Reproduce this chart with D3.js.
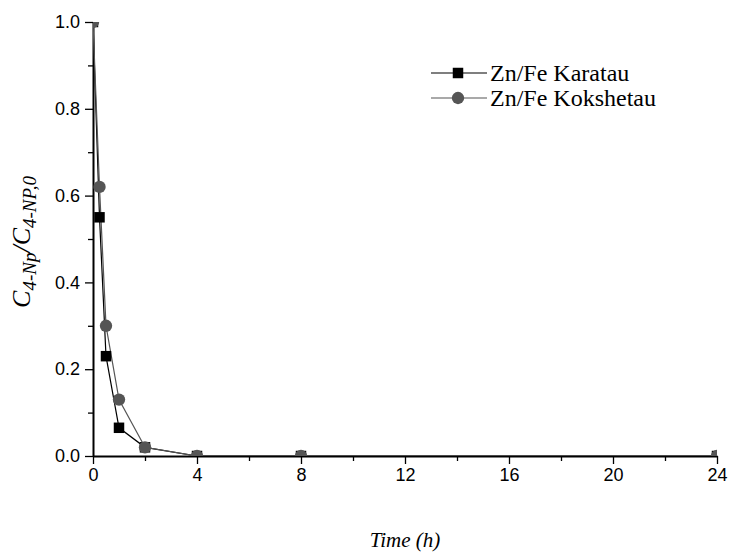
<!DOCTYPE html>
<html>
<head>
<meta charset="utf-8">
<script src="https://d3js.org/d3.v7.min.js"></script>
<style>
  body { margin: 0; background: #fff; }
  .tick text { font-family: "Liberation Sans", Arial, sans-serif; font-size: 18px; fill: #000; }
  .serif { font-family: "Liberation Serif", "Times New Roman", serif; }
</style>
</head>
<body>
<div id="chart"></div>
<script>
// Data
const timeH = [0, 0.25, 0.5, 1, 2, 4, 8, 24];
const karatau = [1.0, 0.55, 0.23, 0.065, 0.02, 0.0, 0.0, 0.0];
const kokshetau = [1.0, 0.62, 0.30, 0.13, 0.02, 0.0, 0.0, 0.0];
const xTicks = [0, 4, 8, 12, 16, 20, 24];
const yTicks = [0.0, 0.2, 0.4, 0.6, 0.8, 1.0];

const width = 732, height = 558;
const margin = { left: 93, right: 15, top: 22, bottom: 102 };
const innerW = width - margin.left - margin.right;
const innerH = height - margin.top - margin.bottom;

const svg = d3.select("#chart")
    .append("svg")
    .attr("width", width)
    .attr("height", height);

const x = d3.scaleLinear().domain([0, 24]).range([0, innerW]);
const y = d3.scaleLinear().domain([0, 1]).range([innerH, 0]);

const g = svg.append("g")
    .attr("transform", `translate(${margin.left},${margin.top})`);

svg.append("defs").append("clipPath")
    .attr("id", "plot-clip")
    .append("rect")
    .attr("x", 0).attr("y", 0)
    .attr("width", innerW).attr("height", innerH);

// minor ticks
g.append("g")
    .attr("transform", `translate(0,${innerH})`)
    .call(d3.axisBottom(x).tickValues(d3.range(2, 24, 4)).tickSize(5).tickFormat(""))
    .call(a => a.select(".domain").remove())
    .selectAll("line").attr("stroke-width", 1.3);

g.append("g")
    .call(d3.axisLeft(y).tickValues(d3.range(0.1, 1, 0.2)).tickSize(5).tickFormat(""))
    .call(a => a.select(".domain").remove())
    .selectAll("line").attr("stroke-width", 1.3);

// major axes
const xAxis = g.append("g")
    .attr("transform", `translate(0,${innerH})`)
    .call(d3.axisBottom(x).tickValues(xTicks).tickSize(8).tickSizeOuter(0).tickPadding(4).tickFormat(d3.format("d")));

const yAxis = g.append("g")
    .call(d3.axisLeft(y).tickValues(yTicks).tickSize(8).tickSizeOuter(0).tickPadding(5).tickFormat(d3.format(".1f")));

[xAxis, yAxis].forEach(a => {
    a.select(".domain").attr("stroke-width", 2);
    a.selectAll(".tick line").attr("stroke-width", 1.3);
});

// data
const plot = g.append("g").attr("clip-path", "url(#plot-clip)");

const series = [
    { name: "Zn/Fe Karatau", values: karatau, color: "#000", shape: "square" },
    { name: "Zn/Fe Kokshetau", values: kokshetau, color: "#555", shape: "circle" }
];

const symbolFor = s => d3.symbol()
    .type(s.shape === "square" ? d3.symbolSquare : d3.symbolCircle)
    .size(s.shape === "square" ? 110 : 120);

const line = d3.line()
    .x((d, i) => x(timeH[i]))
    .y(d => y(d));

series.forEach(s => {
    plot.append("path")
        .datum(s.values)
        .attr("fill", "none")
        .attr("stroke", s.color)
        .attr("stroke-width", 1.2)
        .attr("d", line);
});

series.forEach(s => {
    plot.selectAll(".pt-" + s.shape)
        .data(s.values)
        .join("path")
        .attr("class", "pt-" + s.shape)
        .attr("transform", (d, i) => `translate(${x(timeH[i])},${y(d)})`)
        .attr("d", symbolFor(s))
        .attr("fill", s.color);
});

// legend
const legend = svg.append("g").attr("transform", "translate(431,73)");
series.forEach((s, i) => {
    const row = legend.append("g").attr("transform", `translate(0,${i * 25})`);
    row.append("line")
        .attr("x1", 0).attr("x2", 56)
        .attr("stroke", s.color).attr("stroke-width", 1.2);
    row.append("path")
        .attr("transform", "translate(27,0)")
        .attr("d", symbolFor(s))
        .attr("fill", s.color);
    row.append("text")
        .attr("class", "serif")
        .attr("x", 59).attr("y", 0).attr("dy", "0.33em")
        .style("font-size", "24px")
        .text(s.name);
});

// axis titles
svg.append("text")
    .attr("class", "serif")
    .attr("x", margin.left + innerW / 2)
    .attr("y", 547)
    .attr("text-anchor", "middle")
    .style("font-style", "italic")
    .style("font-size", "21px")
    .text("Time (h)");

const yTitle = svg.append("text")
    .attr("class", "serif")
    .attr("transform", "translate(30,242) rotate(-90)")
    .attr("text-anchor", "middle")
    .style("font-style", "italic")
    .style("font-size", "26px");
yTitle.append("tspan").text("C");
yTitle.append("tspan").attr("dy", 6).style("font-size", "19px").text("4-Np");
yTitle.append("tspan").attr("dy", -6).text("/C");
yTitle.append("tspan").attr("dy", 6).style("font-size", "19px").text("4-NP,0");
</script>
</body>
</html>
